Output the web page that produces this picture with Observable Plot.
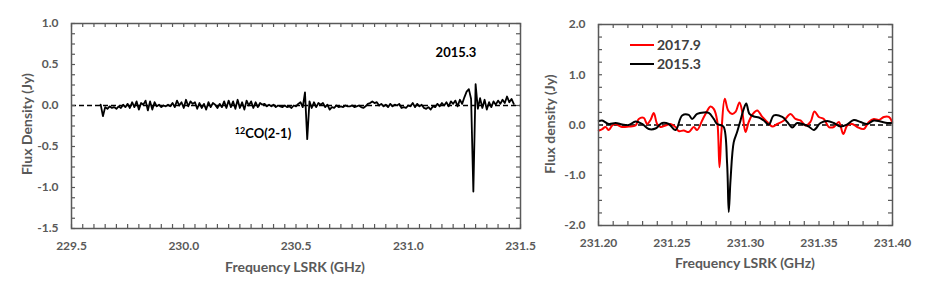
<!DOCTYPE html>
<html><head><meta charset="utf-8">
<script src="https://cdn.jsdelivr.net/npm/d3@7"></script>
<script src="https://cdn.jsdelivr.net/npm/@observablehq/plot@0.6"></script>
<style>
html,body{margin:0;padding:0;background:#fff;}
#wrap{position:relative;width:926px;height:283px;overflow:hidden;font-family:Lato,"Open Sans",sans-serif;}
#left,#right{position:absolute;top:0;}
#left{left:0px;}
#right{left:540px;}
.title{position:absolute;font-weight:bold;color:#595959;font-size:14px;white-space:nowrap;line-height:1;}
.ytitle{transform:translate(-50%,-50%) rotate(-90deg);}
.xtitle{transform:translate(-50%,-50%);}
.ann{position:absolute;font-weight:bold;color:#000;font-size:13px;white-space:nowrap;line-height:1;transform:translate(-50%,-50%);}
.ann sup{font-size:9px;vertical-align:0;position:relative;top:-4px;}
.leg{position:absolute;font-weight:bold;color:#404040;font-size:14px;white-space:nowrap;line-height:1;transform:translateY(-50%);display:flex;align-items:center;}
.leg span.sw{display:inline-block;width:24px;height:0;margin-right:3px;}
</style></head>
<body>
<div id="wrap">
  <div id="left"></div>
  <div id="right"></div>
  <div class="title ytitle" style="left:27px;top:124px;">Flux Density (Jy)</div>
  <div class="title xtitle" style="left:295px;top:267px;">Frequency LSRK (GHz)</div>
  <div class="title ytitle" style="left:550px;top:124px;">Flux density (Jy)</div>
  <div class="title xtitle" style="left:745px;top:263px;">Frequency LSRK (GHz)</div>
  <div class="ann" style="left:456px;top:52px;">2015.3</div>
  <div class="ann" style="left:263px;top:133px;"><sup>12</sup>CO(2-1)</div>
  <div class="leg" style="left:630px;top:45px;"><span class="sw" style="border-top:2px solid #ff0000;"></span>2017.9</div>
  <div class="leg" style="left:630px;top:64px;"><span class="sw" style="border-top:2.5px solid #000;"></span>2015.3</div>
</div>
<script>
// ---- Left panel: 2015.3 spectrum (GHz, Jy)
const leftFreq = [
229.63,229.64,229.65,229.66,229.67,229.68,229.69,229.70,229.71,229.72,
229.73,229.74,229.75,229.76,229.77,229.78,229.79,229.80,229.81,229.82,
229.83,229.84,229.85,229.86,229.87,229.88,229.89,229.90,229.91,229.92,
229.93,229.94,229.95,229.96,229.97,229.98,229.99,230.00,230.01,230.02,
230.03,230.04,230.05,230.06,230.07,230.08,230.09,230.10,230.11,230.12,
230.13,230.14,230.15,230.16,230.17,230.18,230.19,230.20,230.21,230.22,
230.23,230.24,230.25,230.26,230.27,230.28,230.29,230.30,230.31,230.32,
230.33,230.34,230.35,230.36,230.37,230.38,230.39,230.40,230.41,230.42,
230.43,230.44,230.45,230.46,230.47,230.48,230.49,230.50,230.51,230.52,
230.53,230.54,230.55,230.56,230.57,230.58,230.59,230.60,230.61,230.62,
230.63,230.64,230.65,230.66,230.67,230.68,230.69,230.70,230.71,230.72,
230.73,230.74,230.75,230.76,230.77,230.78,230.79,230.80,230.81,230.82,
230.83,230.84,230.85,230.86,230.87,230.88,230.89,230.90,230.91,230.92,
230.93,230.94,230.95,230.96,230.97,230.98,230.99,231.00,231.01,231.02,
231.03,231.04,231.05,231.06,231.07,231.08,231.09,231.10,231.11,231.12,
231.13,231.14,231.15,231.16,231.17,231.18,231.19,231.20,231.21,231.22,
231.23,231.24,231.25,231.26,231.27,231.28,231.29,231.30,231.31,231.32,
231.33,231.34,231.35,231.36,231.37,231.38,231.39,231.40,231.41,231.42,
231.43,231.44,231.45,231.46,231.47];
const leftFlux2015 = [
0.01,-0.13,-0.02,-0.04,-0.01,-0.03,-0.02,-0.04,-0.01,-0.03,
0.01,-0.02,0.02,-0.03,0.04,-0.02,0.05,-0.05,0.03,0.01,
0.06,-0.06,0.05,-0.05,0.04,-0.01,0.01,-0.02,0.00,-0.01,
0.01,-0.01,0.03,-0.02,0.06,0.00,0.04,-0.03,0.07,-0.01,
0.05,0.02,0.04,-0.04,0.03,-0.03,0.02,-0.05,0.04,-0.02,
0.03,0.01,-0.03,0.02,-0.02,0.05,-0.03,0.06,-0.02,0.05,
-0.04,0.07,-0.03,0.04,-0.05,0.06,0.00,0.05,-0.03,0.04,
-0.02,0.03,0.01,0.02,-0.01,0.01,-0.01,0.01,-0.02,0.00,
-0.01,-0.02,0.00,-0.02,-0.01,-0.03,0.00,-0.01,0.02,0.04,
-0.02,0.16,-0.41,0.05,-0.03,0.04,-0.02,0.03,0.01,0.03,
-0.02,0.01,-0.05,-0.02,-0.03,0.00,-0.02,-0.01,-0.02,0.00,
-0.01,-0.01,0.00,-0.02,-0.01,0.00,-0.02,-0.03,-0.01,0.02,
0.03,0.05,0.03,0.04,0.00,0.02,-0.01,0.01,-0.02,0.02,
-0.01,0.01,0.00,0.02,-0.03,-0.02,-0.03,0.00,-0.01,0.03,
-0.02,0.02,-0.01,0.01,-0.03,-0.04,-0.02,-0.05,-0.01,-0.02,
0.02,-0.01,0.03,0.00,0.04,-0.01,0.05,0.02,0.06,-0.01,
0.07,0.02,0.10,0.17,0.20,0.08,-1.05,0.26,-0.04,0.09,
-0.03,0.07,-0.05,0.04,-0.02,0.05,0.01,0.06,0.02,0.07,
0.03,0.11,0.04,0.08,0.02];

// ---- Right panel: zoom on 231.20-231.40 GHz
const rightFreq2015 = [
231.2002,231.2025,231.2070,231.2116,231.2161,231.2206,231.2252,231.2297,231.2342,231.2388,
231.2433,231.2478,231.2524,231.2569,231.2614,231.2637,231.2671,231.2716,231.2750,231.2784,
231.2807,231.2830,231.2852,231.2875,231.2886,231.2898,231.2920,231.2943,231.2966,231.2988,
231.3005,231.3027,231.3057,231.3091,231.3124,231.3159,231.3193,231.3250,231.3284,231.3318,
231.3352,231.3397,231.3431,231.3465,231.3510,231.3556,231.3601,231.3646,231.3692,231.3737,
231.3782,231.3828,231.3873,231.3918,231.3964,231.3998];
const rightFlux2015 = [
0.08,0.09,0.02,0.04,0.01,0.00,0.07,0.02,-0.08,-0.07,
0.04,0.02,-0.10,0.19,0.20,0.12,0.22,0.25,0.24,0.12,
0.02,0.00,-0.04,-0.77,-1.73,-1.10,-0.34,-0.14,0.09,0.32,
0.43,0.22,0.17,0.15,0.09,0.01,0.19,0.16,0.06,-0.05,
0.04,0.01,-0.03,-0.10,0.04,0.08,0.04,-0.03,0.01,0.10,
0.06,0.02,0.09,0.07,0.04,0.04];
const rightFreq2017 = [
231.2002,231.2025,231.2048,231.2070,231.2093,231.2116,231.2138,231.2161,231.2206,231.2252,
231.2274,231.2308,231.2331,231.2354,231.2376,231.2399,231.2422,231.2456,231.2490,231.2524,
231.2546,231.2580,231.2614,231.2648,231.2671,231.2705,231.2728,231.2762,231.2784,231.2807,
231.2823,231.2837,231.2859,231.2882,231.2909,231.2932,231.2959,231.2978,231.3000,231.3022,
231.3050,231.3080,231.3114,231.3148,231.3182,231.3216,231.3261,231.3306,231.3340,231.3374,
231.3408,231.3442,231.3469,231.3499,231.3533,231.3567,231.3601,231.3635,231.3665,231.3692,
231.3726,231.3760,231.3805,231.3839,231.3873,231.3907,231.3941,231.3975,231.3998];
const rightFlux2017 = [
-0.11,-0.08,-0.04,-0.10,-0.01,0.02,-0.01,-0.04,-0.03,-0.01,
0.12,0.14,0.02,0.10,0.24,0.02,-0.04,-0.01,0.02,-0.04,
-0.12,-0.11,-0.14,-0.04,-0.10,0.09,0.22,0.37,0.32,0.09,
-0.84,-0.11,0.52,0.29,0.22,0.26,0.45,0.26,-0.14,0.06,
0.22,0.29,0.16,0.06,-0.03,0.02,0.09,0.22,0.12,0.09,
-0.01,0.06,0.27,0.16,0.12,-0.04,-0.04,0.06,-0.18,-0.01,
0.02,-0.04,-0.08,0.06,0.12,0.10,0.16,0.16,0.06];

// ---- Axis ticks
const leftXTicks = [229.5, 230.0, 230.5, 231.0, 231.5];
const leftYTicks = [-1.5, -1.0, -0.5, 0.0, 0.5, 1.0];
const rightXTicks = [231.20, 231.25, 231.30, 231.35, 231.40];
const rightYTicks = [-2.0, -1.0, 0.0, 1.0, 2.0];

const AXIS = "#595959";

function minorTicks(lo, hi, step) {
  const n = Math.round((hi - lo) / step);
  return d3.range(n + 1).map(i => lo + i * step);
}

function panel({width, height, mt, mr, mb, ml, xDomain, yDomain, xTicks, yTicks, xStep, yStep, xDec, series}) {
  const pw = width - ml - mr, ph = height - mt - mb, tl = 4;
  const xm = minorTicks(xDomain[0], xDomain[1], xStep);
  const ym = minorTicks(yDomain[0], yDomain[1], yStep);
  const marks = [
    Plot.ruleY([0], {stroke: "#000", strokeWidth: 1.5, strokeDasharray: "5,3"})
  ];
  for (const s of series) {
    marks.push(Plot.line(s.data, {x: d => d[0], y: d => d[1], stroke: s.color, strokeWidth: s.width, curve: s.curve || "linear", strokeLinejoin: "round"}));
  }
  marks.push(
    Plot.tickX(xm, {x: d => d, insetTop: ph - tl, stroke: AXIS, strokeWidth: 1.2}),
    Plot.tickX(xm, {x: d => d, insetBottom: ph - tl, stroke: AXIS, strokeWidth: 1.2}),
    Plot.tickY(ym, {y: d => d, insetRight: pw - tl, stroke: AXIS, strokeWidth: 1.2}),
    Plot.tickY(ym, {y: d => d, insetLeft: pw - tl, stroke: AXIS, strokeWidth: 1.2}),
    Plot.frame({stroke: AXIS, strokeWidth: 1.5}),
    Plot.axisX(xTicks, {tickSize: 0, tickPadding: 13, tickFormat: d => d.toFixed(xDec), label: null}),
    Plot.axisY(yTicks, {tickSize: 0, tickPadding: 13, tickFormat: d => d.toFixed(1), label: null})
  );
  return Plot.plot({
    width, height,
    marginTop: mt, marginRight: mr, marginBottom: mb, marginLeft: ml,
    x: {domain: xDomain},
    y: {domain: yDomain},
    style: {fontFamily: "Lato, 'Open Sans', sans-serif", fontSize: "12px", fontWeight: "bold", color: AXIS, background: "transparent", overflow: "visible"},
    marks
  });
}

const leftData = d3.zip(leftFreq, leftFlux2015);
const r2015 = d3.zip(rightFreq2015, rightFlux2015);
const r2017 = d3.zip(rightFreq2017, rightFlux2017);

document.getElementById("left").append(panel({
  width: 540, height: 283, mt: 23, mr: 20, mb: 55, ml: 71,
  xDomain: [229.5, 231.5], yDomain: [-1.5, 1.0],
  xTicks: leftXTicks, yTicks: leftYTicks, xStep: 0.05, yStep: 0.125, xDec: 1,
  series: [{data: leftData, color: "#000", width: 1.8}]
}));

document.getElementById("right").append(panel({
  width: 386, height: 283, mt: 24, mr: 34, mb: 58, ml: 58,
  xDomain: [231.20, 231.40], yDomain: [-2.0, 2.0],
  xTicks: rightXTicks, yTicks: rightYTicks, xStep: 0.01, yStep: 0.25, xDec: 2,
  series: [
    {data: r2017, color: "#ff0000", width: 2, curve: "catmull-rom"},
    {data: r2015, color: "#000", width: 2, curve: "catmull-rom"}
  ]
}));
</script>
</body></html>
